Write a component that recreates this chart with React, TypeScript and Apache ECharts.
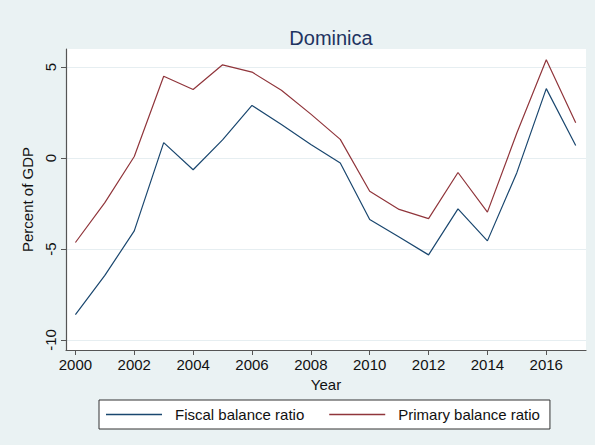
import React, { useEffect, useRef } from "react";
import * as echarts from "echarts";

const years = [2000, 2001, 2002, 2003, 2004, 2005, 2006, 2007, 2008, 2009, 2010, 2011, 2012, 2013, 2014, 2015, 2016, 2017];
const fiscalBalance = [-8.6, -6.45, -4.0, 0.85, -0.64, 1.0, 2.9, 1.85, 0.75, -0.27, -3.37, -4.34, -5.32, -2.79, -4.55, -0.8, 3.82, 0.69];
const primaryBalance = [-4.64, -2.45, 0.09, 4.5, 3.77, 5.13, 4.73, 3.73, 2.42, 1.03, -1.82, -2.82, -3.33, -0.79, -2.97, 1.38, 5.41, 1.94];
const xTicks = [2000, 2002, 2004, 2006, 2008, 2010, 2012, 2014, 2016];
const yTicks = [-10, -5, 0, 5];

const BG = "#EAF2F3";
const FONT = "'Liberation Sans', Arial, sans-serif";
const BLUE = "#1A476F";
const RED = "#90353B";

export default function App() {
  const ref = useRef<HTMLDivElement>(null);
  useEffect(() => {
    const chart = echarts.init(ref.current!, null, { renderer: "svg" });
    chart.setOption({
      animation: false,
      backgroundColor: BG,
      textStyle: { fontFamily: FONT },
      title: {
        text: "Dominica",
        left: 326,
        textAlign: "center",
        top: 23,
        textStyle: { color: "#1E3461", fontSize: 20, fontWeight: "normal", fontFamily: FONT },
      },
      grid: { left: 66, top: 49, width: 520, height: 301, backgroundColor: "#ffffff", show: true, borderWidth: 0 },
      legend: {
        top: 400,
        left: 99,
        orient: "horizontal",
        itemWidth: 56,
        itemHeight: 1.5,
        itemGap: 25,
        padding: [7, 10, 7, 7],
        backgroundColor: "#ffffff",
        borderColor: "#333333",
        borderWidth: 1,
        borderRadius: 0,
        icon: "rect",
        textStyle: { color: "#111", fontSize: 15, fontFamily: FONT, padding: [0, 0, 0, 8] },
        data: [
          { name: "Fiscal balance ratio", itemStyle: { color: BLUE } },
          { name: "Primary balance ratio", itemStyle: { color: RED } },
        ],
      },
      xAxis: {
        type: "value",
        min: 1999.68,
        max: 2017.35,
        name: "Year",
        nameLocation: "middle",
        nameGap: 25,
        nameTextStyle: { color: "#111", fontSize: 15, fontFamily: FONT },
        axisLine: { show: true, onZero: false, lineStyle: { color: "#555", width: 1.2 } },
        axisTick: { show: true, length: 5, customValues: xTicks, lineStyle: { color: "#555" } },
        axisLabel: { customValues: xTicks, color: "#111", fontSize: 15, margin: 7, fontFamily: FONT, formatter: (v: number) => String(v) },
        splitLine: { show: false },
      },
      yAxis: {
        type: "value",
        min: -10.55,
        max: 6.0,
        name: "Percent of GDP",
        nameLocation: "middle",
        nameGap: 26,
        nameRotate: 90,
        nameTextStyle: { color: "#111", fontSize: 15, fontFamily: FONT },
        axisLine: { show: true, onZero: false, lineStyle: { color: "#555", width: 1.2 } },
        axisTick: { show: true, length: 5, customValues: yTicks, lineStyle: { color: "#555" } },
        axisLabel: { customValues: yTicks, rotate: 90, color: "#111", fontSize: 15, margin: 8, fontFamily: FONT },
        splitLine: { show: true, lineStyle: { color: "#E6EEF1", width: 1.2 } },
      },
      series: [
        {
          name: "Fiscal balance ratio",
          type: "line",
          data: years.map((y, i) => [y, fiscalBalance[i]]),
          showSymbol: false,
          symbol: "none",
          lineStyle: { color: BLUE, width: 1.2 },
          itemStyle: { color: BLUE },
        },
        {
          name: "Primary balance ratio",
          type: "line",
          data: years.map((y, i) => [y, primaryBalance[i]]),
          showSymbol: false,
          symbol: "none",
          lineStyle: { color: RED, width: 1.2 },
          itemStyle: { color: RED },
        },
      ],
    });
    return () => chart.dispose();
  }, []);
  return (
    <div
      ref={ref}
      style={{ position: "fixed", left: 0, top: 0, width: 595, height: 445 }}
    />
  );
}
